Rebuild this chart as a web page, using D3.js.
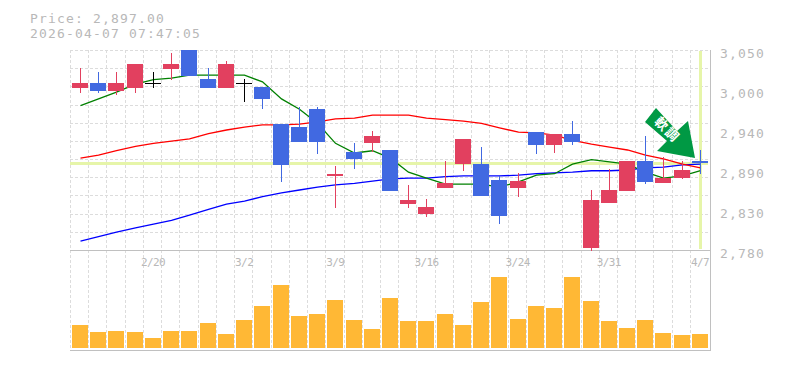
<!DOCTYPE html>
<html>
<head>
<meta charset="utf-8">
<script src="https://cdn.jsdelivr.net/npm/d3@7"></script>
<style>
  html, body { margin: 0; padding: 0; background: #fff; }
  svg { display: block; }
  text { font-family: "DejaVu Sans Mono", monospace; fill: #b8b8b8; }
</style>
</head>
<body>
<div id="chart"></div>
<script>
//  data
const dates = ["2/16","2/17","2/18","2/19","2/20","2/24","2/25","2/26","2/27","3/2","3/3","3/4","3/5","3/6","3/9","3/10","3/11","3/12","3/13","3/16","3/17","3/18","3/19","3/23","3/24","3/25","3/26","3/27","3/30","3/31","4/1","4/2","4/3","4/6","4/7"];
const open_ = [2999,3005,2995,2999,3005,3024,3056,3011,2999,3005,3000,2950,2946,2970,2880,2912,2924,2915,2842,2829,2864,2896,2896,2874,2864,2939,2922,2937,2783,2843,2860,2900,2870,2877,2900];
const high = [3026,3020,3020,3031,3020,3046,3056,3026,3035,3011,3000,2950,2973,2973,2893,2924,2941,2915,2868,2849,2900,2930,2919,2880,2884,2939,2937,2954,2861,2889,2900,2934,2906,2900,2915];
const low = [2992,2992,2989,2992,2999,3010,3015,2999,2999,2980,2970,2872,2926,2910,2837,2889,2912,2860,2837,2825,2864,2887,2853,2815,2852,2910,2911,2922,2779,2843,2860,2869,2870,2876,2883];
const close_ = [3005,2995,3005,3031,3005,3031,3015,2999,3031,3005,2984,2895,2926,2926,2883,2903,2934,2860,2848,2838,2870,2930,2853,2826,2873,2922,2937,2926,2848,2861,2900,2872,2877,2888,2897];
const ma_short = [2975,2984,2993,3004,3010,3012,3016,3016,3016,3016,3007,2984,2970,2951,2924,2911,2914,2904,2885,2877,2869,2869,2869,2865,2872,2881,2883,2896,2902,2899,2896,2885,2877,2880,2887];
const ma_mid = [2904,2908,2914,2920,2924,2927,2930,2937,2942,2946,2949,2949,2950,2953,2957,2958,2962,2962,2962,2958,2956,2954,2951,2945,2939,2938,2935,2928,2923,2919,2915,2908,2903,2896,2891];
const ma_long = [2792,2798,2804,2810,2815,2820,2827,2835,2842,2846,2852,2857,2861,2865,2868,2870,2873,2876,2877,2877,2879,2880,2880,2880,2881,2883,2884,2885,2887,2887,2888,2891,2892,2895,2896];
const volume = [23,16,17,16,10,17,17,25,14,28,42,63,32,34,48,28,19,50,27,27,34,23,46,71,29,42,40,71,47,27,20,28,15,13,14];
const date_ticks = ["2/20","3/2","3/9","3/16","3/24","3/31","4/7"];
const price_ticks = [2780,2834,2888,2942,2996,3050];
const last_price = 2897;
const title_lines = ["Price: 2,897.00","2026-04-07 07:47:05"];

//  colors
const COL_UP = "#e2405f", COL_DOWN = "#4169e1", COL_FLAT = "#000";
const COL_GRID = "#dcdcdc", COL_AXIS = "#c0c0c0", COL_MARK = "#e6f5a9";

//  layout
const w = 785, h = 370;
const left = 70, right = 710, top_ = 50, mid = 250, bottom = 350;

const svg = d3.select("#chart").append("svg").attr("width", w).attr("height", h);

const x = d3.scaleBand().domain(dates).range([70.9, 709.1]);
const y = d3.scaleLinear().domain([2780, 3050]).range([mid, top_]);
const yv = d3.scaleLinear().domain([0, 71]).range([348, 277]);

const px = d => Math.round(x(d) + 1.1);     // left pixel of a bar
const cx = i => px(dates[i]) + 8;           // centre of a bar
const py = p => Math.round(y(p));

svg.append("clipPath").attr("id", "plot").append("rect")
  .attr("x", left).attr("y", top_).attr("width", right - left).attr("height", mid - top_ + 1);

//  grid
const grid = svg.append("g").attr("stroke", COL_GRID).attr("stroke-dasharray", "3 2").attr("shape-rendering", "crispEdges");
grid.selectAll("line.v").data(dates).enter().append("line")
  .attr("x1", d => px(d) - 1.5).attr("x2", d => px(d) - 1.5)
  .attr("y1", top_).attr("y2", bottom);
grid.selectAll("line.h").data(d3.range(12).map(i => 2780 + i * 270 / 11)).enter().append("line")
  .attr("x1", left).attr("x2", right)
  .attr("y1", d => py(d) + 0.5).attr("y2", d => py(d) + 0.5);

//  frame
const frame = svg.append("g").attr("stroke", COL_AXIS).attr("shape-rendering", "crispEdges");
frame.append("line").attr("x1", left).attr("x2", right).attr("y1", mid + 0.5).attr("y2", mid + 0.5);
frame.append("line").attr("x1", left).attr("x2", right + 1).attr("y1", bottom + 0.5).attr("y2", bottom + 0.5);
frame.append("line").attr("x1", right + 0.5).attr("x2", right + 0.5).attr("y1", top_).attr("y2", bottom);

//  current price and current day marks
svg.append("rect").attr("x", left).attr("y", py(last_price) - 1).attr("width", right - left - 2).attr("height", 3).attr("fill", COL_MARK);
svg.append("rect").attr("x", cx(34) - 1).attr("y", top_ + 1).attr("width", 3).attr("height", mid - top_ - 2).attr("fill", COL_MARK);

//  moving averages
const line = d3.line().x((d, i) => cx(i) + 0.5).y(d => y(d));
const plot = svg.append("g").attr("clip-path", "url(#plot)");
[[ma_long, "#0000ff"], [ma_mid, "#ff0000"], [ma_short, "#008000"]].forEach(s => {
  plot.append("path").attr("d", line(s[0])).attr("fill", "none").attr("stroke", s[1]).attr("stroke-width", 1.3);
});

//  candles
const candle_color = i => close_[i] > open_[i] ? COL_UP : close_[i] < open_[i] ? COL_DOWN : COL_FLAT;
const candles = plot.selectAll("g.candle").data(dates).enter().append("g").attr("fill", (d, i) => candle_color(i));
candles.append("rect")
  .attr("x", (d, i) => cx(i))
  .attr("y", (d, i) => py(high[i]))
  .attr("width", 1)
  .attr("height", (d, i) => py(low[i]) - py(high[i]));
candles.append("rect")
  .attr("x", d => px(d))
  .attr("y", (d, i) => py(Math.max(open_[i], close_[i])))
  .attr("width", 16)
  .attr("height", (d, i) => Math.max(1, py(Math.min(open_[i], close_[i])) - py(Math.max(open_[i], close_[i]))));

//  volume
svg.selectAll("rect.vol").data(volume).enter().append("rect")
  .attr("x", (d, i) => px(dates[i]))
  .attr("y", d => yv(d))
  .attr("width", 16)
  .attr("height", d => yv(0) - yv(d))
  .attr("fill", "#ffb835");

//  axes
const price_axis = d3.axisRight(y).tickValues(price_ticks).tickSize(0).tickPadding(0)
  .tickFormat(d => d3.format(",")(Math.round(d / 10) * 10));
svg.append("g").attr("transform", "translate(720,0)").call(price_axis)
  .call(g => g.select(".domain").remove())
  .selectAll("text").attr("x", 0).attr("dy", "7.5px").style("font-size", "13px").style("letter-spacing", "1.17px").style("fill", "#b8b8b8");

const date_axis = d3.axisBottom(x).tickValues(date_ticks).tickSize(0).tickPadding(0);
svg.append("g").attr("transform", "translate(0,258)").call(date_axis)
  .call(g => g.select(".domain").remove())
  .selectAll("text").attr("y", 0).attr("dy", "0.75em").style("font-size", "11px").style("letter-spacing", "-0.6px").style("fill", "#b8b8b8");

//  title
svg.selectAll("text.title").data(title_lines).enter().append("text")
  .attr("x", 30).attr("y", (d, i) => 23 + i * 15)
  .style("font-size", "13px").style("letter-spacing", "1.17px")
  .text(d => d);

//  arrow
const tip_x = cx(34) - 5, tip_y = py(last_price) - 5;
const arrow = [[-39,-50],[-18,-27],[-7,-37],[0,0],[-38,-7],[-28,-17],[-50,-36]];
svg.append("polygon")
  .attr("points", arrow.map(p => [tip_x + p[0], tip_y + p[1]].join(",")).join(" "))
  .attr("fill", "#009944");
svg.append("text")
  .attr("transform", `translate(${tip_x - 27.5},${tip_y - 28.5}) rotate(45)`)
  .attr("text-anchor", "middle").attr("dy", "0.38em")
  .style("font-family", '"Noto Sans CJK JP"').style("font-size", "13px").style("font-weight", "bold").style("fill", "#fff")
  .attr("letter-spacing", "2")
  .text("軟調");
</script>
</body>
</html>
